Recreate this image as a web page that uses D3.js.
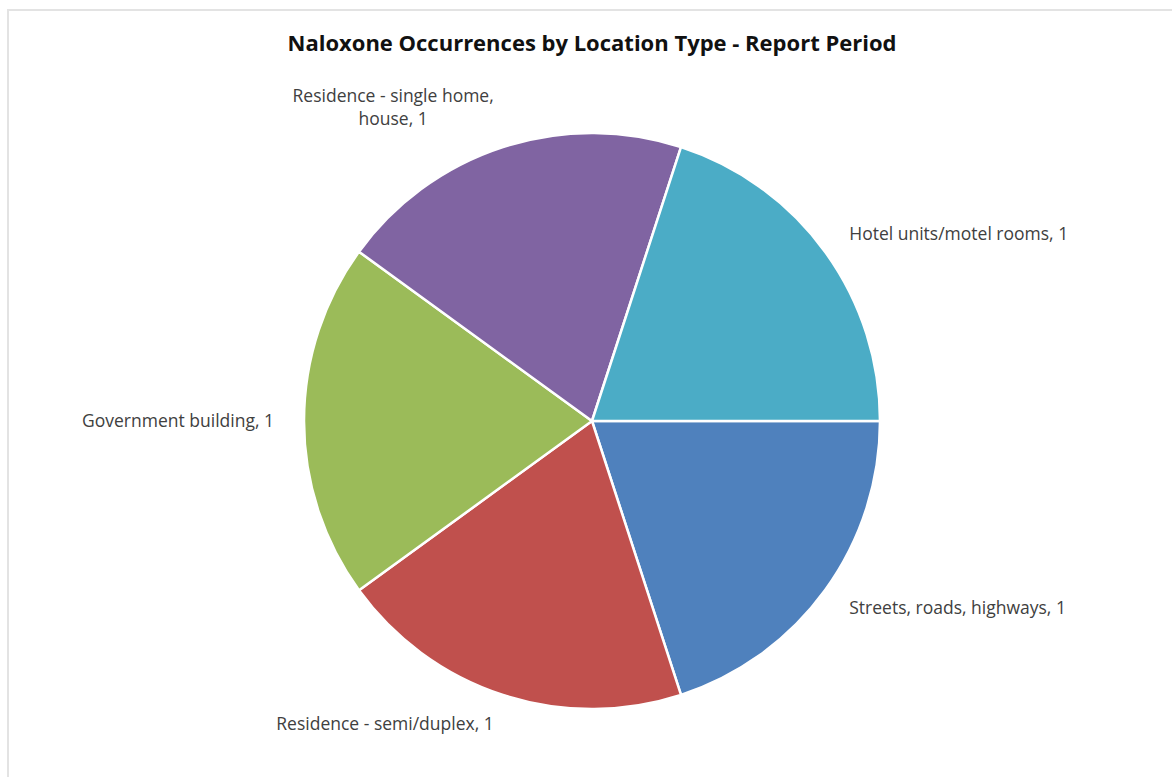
<!DOCTYPE html>
<html>
<head>
<meta charset="utf-8">
<script src="https://cdn.jsdelivr.net/npm/d3@7"></script>
<style>
  html, body { margin: 0; padding: 0; background: #fff; }
  svg { display: block; }
</style>
</head>
<body>
<svg id="chart" width="1172" height="777"></svg>
<script>
// Location types in series order (first slice starts at 3 o'clock, clockwise)
const categories = [
  "Streets, roads, highways",
  "Residence - semi/duplex",
  "Government building",
  "Residence - single home, house",
  "Hotel units/motel rooms"
];
const occurrences = [1, 1, 1, 1, 1];
const sliceColors = ["#4F81BD", "#C0504D", "#9BBB59", "#8064A2", "#4BACC6"];
// Label lines (wrapped text as shown on the chart)
const labelLines = [
  ["Streets, roads, highways, 1"],
  ["Residence - semi/duplex, 1"],
  ["Government building, 1"],
  ["Residence - single home,", "house, 1"],
  ["Hotel units/motel rooms, 1"]
];
const chartTitle = "Naloxone Occurrences by Location Type - Report Period";

const W = 1172, H = 777;
const cx = 592, cy = 421, outerR = 288, labelR = 318;
const labelFont = "'Open Sans', 'Liberation Sans', sans-serif";

const svg = d3.select("#chart");

// chart area border
svg.append("rect")
  .attr("x", 8).attr("y", 10)
  .attr("width", W + 20).attr("height", H + 20)
  .attr("fill", "#fff")
  .attr("stroke", "#e3e3e3")
  .attr("stroke-width", 2);

svg.append("text")
  .attr("x", 592).attr("y", 51)
  .attr("text-anchor", "middle")
  .attr("font-family", labelFont)
  .attr("font-weight", "bold")
  .attr("font-size", 22)
  .attr("fill", "#111")
  .text(chartTitle);

const data = categories.map((c, i) => ({ name: c, value: occurrences[i], color: sliceColors[i], lines: labelLines[i] }));

const pie = d3.pie()
  .value(d => d.value)
  .sort(null)
  .startAngle(Math.PI / 2)
  .endAngle(Math.PI / 2 + 2 * Math.PI);

const arc = d3.arc().innerRadius(0).outerRadius(outerR);

const g = svg.append("g").attr("transform", `translate(${cx},${cy})`);
const arcs = pie(data);

g.selectAll("path.slice")
  .data(arcs)
  .join("path")
  .attr("class", "slice")
  .attr("d", arc)
  .attr("fill", d => d.data.color)
  .attr("stroke", "#fff")
  .attr("stroke-width", 2.5)
  .attr("stroke-linejoin", "round");

// data labels outside each slice
const lineH = 23;
arcs.forEach(d => {
  const mid = (d.startAngle + d.endAngle) / 2;
  const n = d.data.lines.length;
  const lx = Math.sin(mid) * labelR;
  // wrapped labels grow away from the pie
  const ly = -Math.cos(mid) * (labelR + (n - 1) * lineH / 2);
  const right = Math.sin(mid) > 0.01;
  const t = g.append("text")
    .attr("font-family", labelFont)
    .attr("font-size", 17.5)
    .attr("fill", "#404040");
  const spans = d.data.lines.map((line, i) =>
    t.append("tspan")
      .attr("y", ly + (i - (n - 1) / 2) * lineH)
      .attr("dy", "0.35em")
      .text(line));
  // lines centered within the block, block anchored beside the slice
  const widths = spans.map(s => s.node().getComputedTextLength());
  const bw = Math.max(...widths);
  const blockLeft = right ? lx : lx - bw;
  spans.forEach(s => s.attr("x", blockLeft + bw / 2).attr("text-anchor", "middle"));
});
</script>
</body>
</html>
